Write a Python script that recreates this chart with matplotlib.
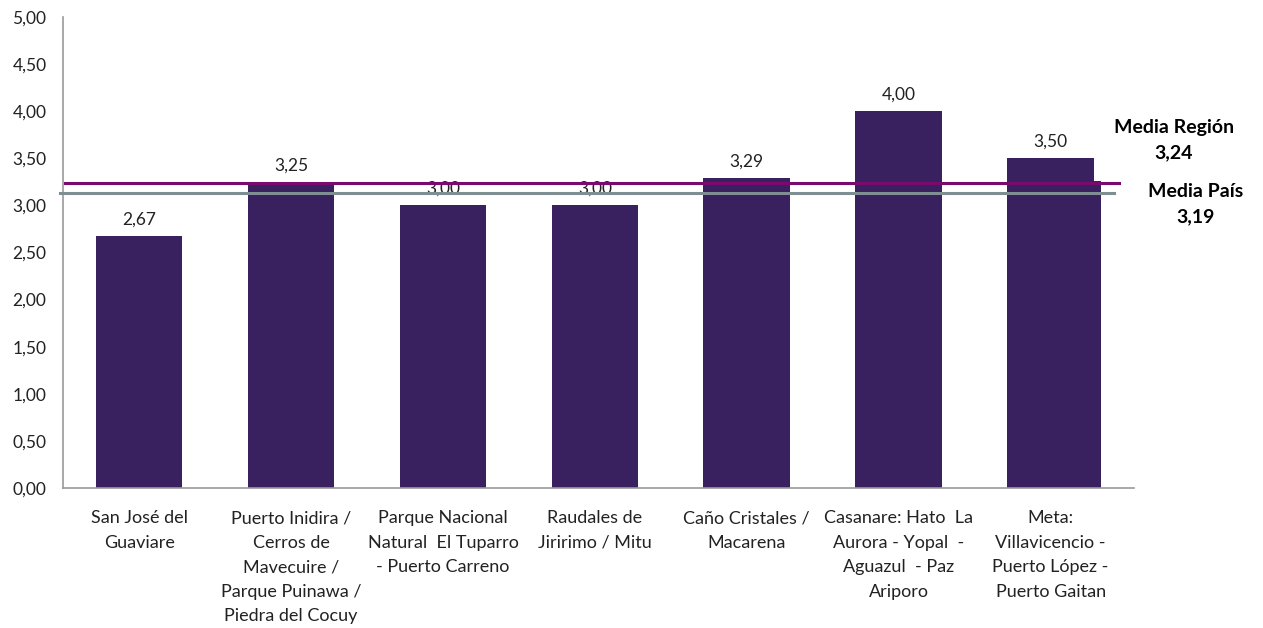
import numpy as np
import matplotlib.pyplot as plt

plt.rcParams['font.family'] = ['Lato', 'DejaVu Sans']

# datos
destinos = ['San José del\nGuaviare',
            'Puerto Inidira /\nCerros de\nMavecuire /\nParque Puinawa /\nPiedra del Cocuy',
            'Parque Nacional\nNatural  El Tuparro\n- Puerto Carreno',
            'Raudales de\nJiririmo / Mitu',
            'Caño Cristales /\nMacarena',
            'Casanare: Hato  La\nAurora - Yopal  -\nAguazul  - Paz\nAriporo',
            'Meta:\nVillavicencio -\nPuerto López -\nPuerto Gaitan']
valores = [2.67, 3.25, 3.00, 3.00, 3.29, 4.00, 3.50]
media_region = 3.24
media_pais = 3.19
linea_pais = 3.13      # where the grey line sits in the picture
resto_meta = 3.26      # small step at the right of the last bar

c_bar = '#38215e'
c_region = '#7b0a6e'
c_pais = '#7f8e93'

fig = plt.figure(figsize=(12.63, 6.28), dpi=100)
ax = fig.add_axes([0.05, 0.223, 0.848, 0.75])

x = np.arange(len(valores))
ax.bar(x[-1], resto_meta, width=0.33, align='edge', color=c_bar, zorder=2)
ax.bar(x, valores, width=0.57, color=c_bar, zorder=2)

for xi, v in zip(x, valores):
    ax.annotate(f'{v:.2f}'.replace('.', ','), (xi, v), xytext=(0, 6),
                textcoords='offset points', ha='center', va='bottom',
                fontsize=12.5, color='#222222')

ax.plot([-0.49, 6.45], [media_region, media_region], color=c_region, lw=2.2, zorder=3, clip_on=False)
ax.plot([-0.52, 6.42], [linea_pais, linea_pais], color=c_pais, lw=2.2, zorder=3, clip_on=False)

# etiquetas de las medias (pixeles desde abajo)
ax.text(1174, 628 - 140, 'Media Región\n' + f'{media_region:.2f}'.replace('.', ','),
        transform=None, ha='center', va='center', fontsize=14,
        fontweight='bold', linespacing=1.6)
ax.text(1196, 628 - 204, 'Media País\n' + f'{media_pais:.2f}'.replace('.', ','),
        transform=None, ha='center', va='center', fontsize=14,
        fontweight='bold', linespacing=1.6)

ax.set_xlim(-0.5, 6.55)
ax.set_ylim(0, 5)
ax.set_yticks(np.arange(0, 5.01, 0.5))
ax.set_yticklabels([f'{t:.2f}'.replace('.', ',') for t in np.arange(0, 5.01, 0.5)])
ax.set_xticks(x)
ax.set_xticklabels(destinos, linespacing=1.65)
ax.tick_params(axis='both', length=0, colors='#222222')
ax.tick_params(axis='x', pad=16, labelsize=13)
ax.tick_params(axis='y', pad=12, labelsize=12.5)
for s in ['top', 'right']:
    ax.spines[s].set_visible(False)
for s in ['left', 'bottom']:
    ax.spines[s].set_color('#9a9a9a')
    ax.spines[s].set_linewidth(1.2)

fig.savefig('out.png', dpi=100)
